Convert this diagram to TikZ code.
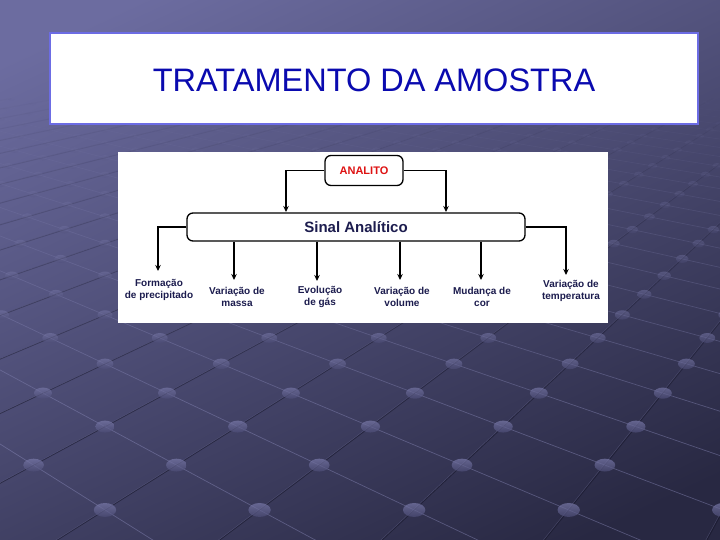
\documentclass[tikz,border=0pt]{standalone}
\usepackage{fontspec}
\setmainfont{Liberation Sans}
\usetikzlibrary{arrows.meta}
\definecolor{bgA}{RGB}{108,108,160}
\definecolor{bgB}{RGB}{40,40,66}
\definecolor{titleblue}{RGB}{10,10,175}
\definecolor{frameblue}{RGB}{108,108,228}
\definecolor{navy}{RGB}{28,28,78}
\definecolor{analitored}{RGB}{222,18,18}
\definecolor{dotlight}{RGB}{122,122,170}
\definecolor{dotdark}{RGB}{76,76,118}
\definecolor{gridhi}{RGB}{150,150,200}
\definecolor{gridlo}{RGB}{22,22,42}
\tikzset{
  gridlight/.style={draw=gridhi, line width=0.7pt},
  griddark/.style={draw=gridlo, line width=1pt},
  conn/.style={draw=black, line width=1.4pt, -{Stealth[length=6pt,width=5.5pt]}},
  anbox/.style={draw=black, line width=1.3pt, rounded corners=6pt, fill=white,
    minimum width=78pt, minimum height=30pt, inner sep=0pt,
    text=analitored, font=\bfseries\fontsize{11}{13}\selectfont},
  sinbox/.style={draw=black, line width=1.3pt, rounded corners=6pt, fill=white,
    minimum width=338pt, minimum height=28pt, inner sep=0pt,
    text=navy, font=\bfseries\fontsize{15}{17}\selectfont},
  lab/.style={align=center, inner sep=0pt, text=navy,
    font=\bfseries\fontsize{10}{12.5}\selectfont},
  titlebox/.style={draw=frameblue, line width=2pt, fill=white,
    minimum width=648pt, minimum height=91pt, inner sep=0pt},
  titletext/.style={inner sep=0pt, font=\fontsize{32.5}{38}\selectfont}
}
\begin{document}
\begin{tikzpicture}[x=1pt,y=-1pt]
\useasboundingbox (0,0) rectangle (720,540);
% background
\shade[top color=bgA, bottom color=bgB, shading angle=25] (-40,-40) rectangle (760,580);
\begin{scope}
\clip (0,0) rectangle (720,540);
% grid lines
\foreach \r in {-22,...,6} {
  \pgfmathsetmacro\sa{10000/(25.32-1.395*\r)}
  \pgfmathsetmacro\sb{10000/(25.32-1.395*(\r+1))}
  \pgfmathsetmacro\ya{-80+\sa}
  \pgfmathsetmacro\yb{-80+\sb}
  \pgfmathsetmacro\op{max(0,min(1,(\ya-90)/320))}
  \pgfmathtruncatemacro\nmin{-130/(0.131*\sa)-2}
  \pgfmathtruncatemacro\nmin{\nmin-mod(abs(\nmin-\r),2)}
  \pgfmathtruncatemacro\nnext{\nmin+2}
  \pgfmathtruncatemacro\nmax{640/(0.131*\sa)+3}
  \foreach \n in {\nmin,\nnext,...,\nmax} {
    \pgfmathsetmacro\xa{105+0.131*\n*\sa}
    \pgfmathsetmacro\xb{105+0.131*(\n+1)*\sb}
    \pgfmathsetmacro\xc{105+0.131*(\n-1)*\sb}
    \draw[gridlight, opacity=0.4*\op] (\xa,\ya) -- (\xb,\yb);
    \draw[griddark, opacity=0.6*\op] (\xa,\ya) -- (\xc,\yb);
    \draw[gridlight, line width=0.5pt, opacity=0.25*\op] (\xa-1.1,\ya) -- (\xc-1.1,\yb);
  }
}
% dots
\foreach \r in {-22,...,7} {
  \pgfmathsetmacro\sa{10000/(25.32-1.395*\r)}
  \pgfmathsetmacro\ya{-80+\sa}
  \pgfmathsetmacro\op{max(0,min(1,(\ya-90)/320))}
  \pgfmathsetmacro\rx{0.019*\sa}
  \pgfmathsetmacro\ry{0.0118*\sa}
  \pgfmathtruncatemacro\nmin{-130/(0.131*\sa)-2}
  \pgfmathtruncatemacro\nmin{\nmin-mod(abs(\nmin-\r),2)}
  \pgfmathtruncatemacro\nnext{\nmin+2}
  \pgfmathtruncatemacro\nmax{640/(0.131*\sa)+3}
  \foreach \n in {\nmin,\nnext,...,\nmax} {
    \pgfmathsetmacro\xa{105+0.131*\n*\sa}
    \shade[top color=dotlight, bottom color=dotdark, opacity=0.7*\op]
      (\xa,\ya) ellipse [x radius=\rx, y radius=\ry];
  }
}
\end{scope}
% title
\node[titlebox] (tb) at (374,78.5) {};
\node[titletext, text=titleblue] (title) at (374,80) {TRATAMENTO DA AMOSTRA};
% diagram panel
\fill[white] (118,152) rectangle (608,323);
\node[anbox] (an) at (364,170.5) {ANALITO};
\node[sinbox] (sa) at (356,227) {Sinal Analítico};
\coordinate (tl) at (286,212);
\coordinate (tr) at (446,212);
\draw[conn] (an.west) -| (tl);
\draw[conn] (an.east) -| (tr);
\coordinate (t1) at (158,271);
\coordinate (t2) at (234,280);
\coordinate (t3) at (317,281);
\coordinate (t4) at (400,280);
\coordinate (t5) at (481,280);
\coordinate (t6) at (566,275);
\draw[conn] (sa.west) -| (t1);
\draw[conn] (sa.east) -| (t6);
\draw[conn] (sa.south -| t2) -- (t2);
\draw[conn] (sa.south -| t3) -- (t3);
\draw[conn] (sa.south -| t4) -- (t4);
\draw[conn] (sa.south -| t5) -- (t5);
\node[lab] (l1) at (159,290) {Formação\\de precipitado};
\node[lab] (l2) at (237,297) {Variação de\\massa};
\node[lab] (l3) at (320,297) {Evolução\\de gás};
\node[lab] (l4) at (402,297) {Variação de\\volume};
\node[lab] (l5) at (482,297) {Mudança de\\cor};
\node[lab] (l6) at (571,291) {Variação de\\temperatura};
\end{tikzpicture}
\end{document}
